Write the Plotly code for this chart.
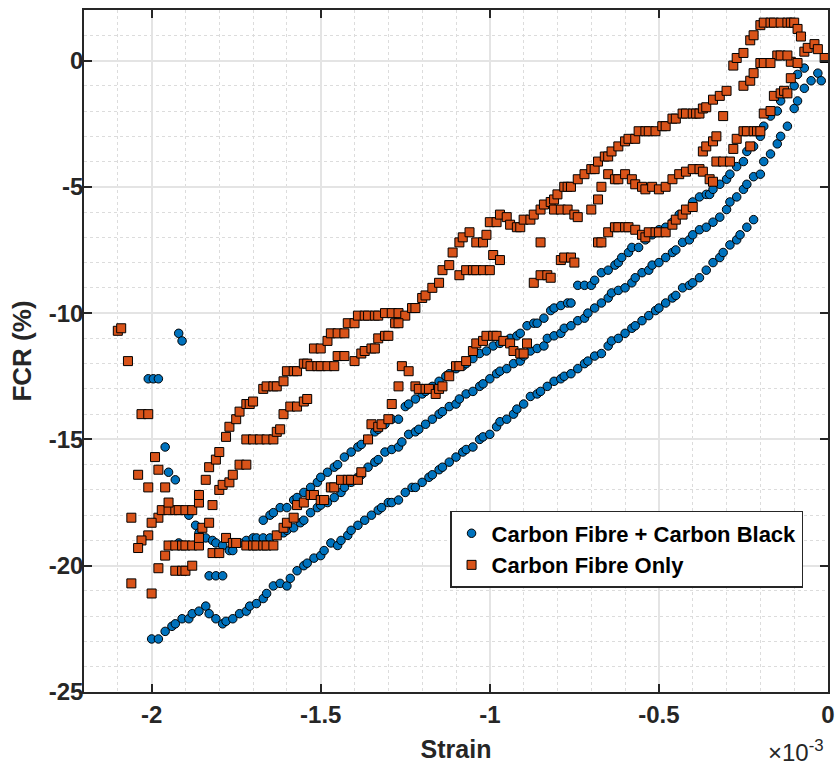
import plotly.graph_objects as go

# Strain values are in units of 1e-3 (axis multiplier shown as x10^-3); FCR in %
# ---------------- Carbon Fibre + Carbon Black ----------------
cfcb_lower = [(-2.00,-22.9),(-1.98,-22.9),(-1.96,-22.6),(-1.94,-22.4),(-1.93,-22.3),(-1.91,-22.1),(-1.89,-22.1),
    (-1.88,-21.9),(-1.86,-21.8),(-1.84,-21.6),(-1.83,-21.9),(-1.81,-22.1),(-1.79,-22.3),(-1.78,-22.2),(-1.76,-22.1),
    (-1.74,-21.9),(-1.72,-21.8),(-1.71,-21.6),(-1.69,-21.5),(-1.67,-21.3),(-1.66,-21.1),(-1.64,-20.8),(-1.62,-20.7),
    (-1.60,-20.8),(-1.59,-20.5),(-1.57,-20.2),(-1.55,-20.0),(-1.54,-19.9),(-1.52,-19.7),(-1.50,-19.6),(-1.49,-19.4),
    (-1.47,-19.1),(-1.45,-19.2),(-1.44,-19.0),(-1.42,-18.8),(-1.41,-18.6),(-1.39,-18.4),(-1.37,-18.2),(-1.35,-18.0),
    (-1.33,-17.8),(-1.32,-17.7),(-1.30,-17.5),(-1.29,-17.5),(-1.27,-17.4),(-1.25,-17.1),(-1.23,-16.9),(-1.22,-16.9),
    (-1.20,-16.7),(-1.18,-16.5),(-1.17,-16.4),(-1.15,-16.2),(-1.14,-16.1),(-1.12,-15.9),(-1.10,-15.7),(-1.08,-15.5),
    (-1.07,-15.4),(-1.05,-15.3),(-1.03,-15.0),(-1.02,-14.9),(-1.00,-14.8),(-0.98,-14.5),(-0.97,-14.3),(-0.95,-14.2),
    (-0.93,-14.0),(-0.92,-13.8),(-0.90,-13.6),(-0.88,-13.3),(-0.86,-13.2),(-0.85,-13.1),(-0.83,-12.9),(-0.81,-12.7),
    (-0.79,-12.6),(-0.78,-12.5),(-0.76,-12.4),(-0.74,-12.2),(-0.72,-12.0),(-0.71,-11.9),(-0.69,-11.7),(-0.67,-11.6),
    (-0.65,-11.3),(-0.64,-11.1),(-0.62,-11.0),(-0.60,-10.8),(-0.58,-10.6),(-0.57,-10.5),(-0.55,-10.3),(-0.53,-10.1),
    (-0.51,-9.9),(-0.50,-9.8),(-0.48,-9.6),(-0.46,-9.4),(-0.45,-9.3),(-0.43,-9.0),(-0.41,-8.9),(-0.40,-8.8),
    (-0.38,-8.6),(-0.36,-8.3),(-0.34,-8.0),(-0.32,-7.8),(-0.31,-7.6),(-0.29,-7.3),(-0.27,-7.1),(-0.26,-6.9),
    (-0.24,-6.6),(-0.22,-6.3)]

cfcb_middle = [(-1.72,-19.0),(-1.70,-18.9),(-1.69,-18.9),(-1.67,-18.9),(-1.65,-18.9),(-1.63,-18.8),(-1.61,-18.7),
    (-1.60,-18.6),(-1.58,-18.5),(-1.56,-18.3),(-1.55,-18.2),(-1.53,-17.9),(-1.51,-17.7),(-1.50,-17.6),(-1.48,-17.5),
    (-1.46,-17.3),(-1.44,-17.1),(-1.43,-16.9),(-1.41,-16.7),(-1.39,-16.5),(-1.38,-16.4),(-1.36,-16.1),(-1.34,-15.9),
    (-1.33,-15.8),(-1.31,-15.5),(-1.29,-15.4),(-1.27,-15.3),(-1.26,-15.1),(-1.24,-14.8),(-1.22,-14.7),(-1.21,-14.6),
    (-1.19,-14.4),(-1.17,-14.2),(-1.15,-14.0),(-1.14,-13.9),(-1.12,-13.7),(-1.10,-13.6),(-1.09,-13.4),(-1.07,-13.2),
    (-1.05,-13.1),(-1.03,-12.9),(-1.02,-12.8),(-1.00,-12.6),(-0.98,-12.4),(-0.97,-12.3),(-0.95,-12.2),(-0.93,-12.0),
    (-0.91,-11.9),(-0.90,-11.7),(-0.88,-11.5),(-0.86,-11.4),(-0.84,-11.3),(-0.83,-11.0),(-0.81,-10.9),(-0.79,-10.8),
    (-0.78,-10.6),(-0.76,-10.5),(-0.74,-10.3),(-0.72,-10.2),(-0.71,-10.0),(-0.69,-9.8),(-0.67,-9.6),(-0.65,-9.4),
    (-0.64,-9.2),(-0.62,-9.1),(-0.60,-9.0),(-0.58,-8.8),(-0.57,-8.6),(-0.55,-8.4),(-0.53,-8.3),(-0.52,-8.1),
    (-0.50,-8.0),(-0.48,-7.8),(-0.46,-7.6),(-0.45,-7.5),(-0.43,-7.2),(-0.41,-7.1),(-0.40,-6.9),(-0.38,-6.7),
    (-0.36,-6.6),(-0.34,-6.4),(-0.32,-6.2),(-0.30,-5.9),(-0.29,-5.6),(-0.27,-5.4),(-0.25,-5.1),(-0.24,-4.9),
    (-0.22,-4.6),(-0.20,-4.5),(-0.19,-4.0),(-0.17,-3.7),(-0.15,-3.3),(-0.14,-3.0),(-0.12,-2.6),(-0.10,-1.9),
    (-0.09,-1.6),(-0.07,-1.1),(-0.05,-0.8),(-0.03,-0.5),(-0.02,-0.8)]

cfcb_upper = [(-1.67,-18.2),(-1.65,-18.0),(-1.64,-17.9),(-1.62,-17.7),(-1.60,-17.7),(-1.58,-17.4),(-1.57,-17.3),
    (-1.55,-17.1),(-1.53,-16.9),(-1.51,-16.7),(-1.50,-16.5),(-1.48,-16.3),(-1.46,-16.1),(-1.45,-16.0),(-1.43,-15.7),
    (-1.41,-15.5),(-1.39,-15.3),(-1.38,-15.2),(-1.36,-15.0),(-1.34,-14.7),(-1.33,-14.6),(-1.31,-14.4),(-1.29,-14.2),
    (-1.27,-14.2),(-1.25,-13.7),(-1.24,-13.6),(-1.22,-13.4),(-1.20,-13.2),(-1.19,-13.1),(-1.17,-12.9),(-1.15,-12.7),
    (-1.13,-12.5),(-1.12,-12.4),(-1.10,-12.2),(-1.08,-12.1),(-1.07,-12.0),(-1.05,-11.8),(-1.03,-11.6),(-1.01,-11.5),
    (-0.99,-11.3),(-0.97,-11.2),(-0.96,-11.1),(-0.94,-11.0),(-0.92,-10.9),(-0.91,-10.8),(-0.89,-10.5),(-0.87,-10.4),
    (-0.86,-10.4),(-0.84,-10.2),(-0.82,-9.9),(-0.81,-9.8),(-0.79,-9.7),(-0.77,-9.6),(-0.76,-9.6),(-0.74,-8.9),
    (-0.72,-8.9),(-0.70,-8.9),(-0.69,-8.7),(-0.67,-8.4),(-0.65,-8.3),(-0.63,-8.1),(-0.62,-8.0),(-0.61,-7.8),
    (-0.59,-7.6),(-0.58,-7.4),(-0.56,-7.4),(-0.54,-7.1),(-0.52,-6.9),(-0.50,-6.7),(-0.48,-6.6),(-0.46,-6.4),
    (-0.44,-6.1),(-0.42,-5.9),(-0.40,-5.6),(-0.38,-5.4),(-0.36,-5.3),(-0.35,-5.3),(-0.34,-5.1),(-0.32,-4.9),
    (-0.30,-4.7),(-0.29,-4.5),(-0.27,-4.2),(-0.25,-4.0),(-0.24,-3.6),(-0.22,-3.4),(-0.20,-3.0),(-0.19,-2.6),
    (-0.17,-2.2),(-0.15,-2.0),(-0.14,-1.6),(-0.12,-1.3),(-0.10,-1.0),(-0.09,-0.55),(-0.07,-0.3)]

cfcb_scatter = [(-1.92,-10.8),(-1.91,-11.1),(-2.01,-12.6),(-1.995,-12.6),(-1.98,-12.6),(-1.96,-15.3),(-1.95,-16.3),
    (-1.93,-16.6),(-1.92,-19.1),(-1.89,-18.0),(-1.87,-18.4),(-1.86,-18.7),(-1.84,-18.9),(-1.82,-19.0),(-1.81,-19.1),
    (-1.79,-19.2),(-1.77,-19.4),(-1.76,-19.4),(-1.74,-19.1),(-1.83,-20.4),(-1.81,-20.4),(-1.79,-20.4)]

# ---------------- Carbon Fibre Only ----------------
cf_left = [(-2.10,-10.7),(-2.09,-10.6),(-2.07,-11.9),(-2.03,-14.0),(-2.01,-14.0),(-1.99,-15.7),(-2.04,-16.4),
    (-1.98,-16.2),(-2.01,-16.9),(-1.96,-16.9),(-2.06,-18.1),(-1.98,-18.1),(-2.00,-18.3),(-2.01,-18.8),(-2.03,-19.0),
    (-2.04,-19.3),(-1.96,-19.6),(-1.98,-20.1),(-2.06,-20.7),(-2.00,-21.1),
    (-1.95,-19.2),(-1.93,-19.2),(-1.91,-19.2),(-1.90,-19.2),(-1.88,-19.2),(-1.86,-19.2),
    (-1.93,-20.2),(-1.91,-20.2),(-1.90,-20.2),(-1.88,-20.0)]

cf_upper = [(-1.97,-17.8),(-1.95,-17.8),(-1.93,-17.8),(-1.92,-17.8),(-1.90,-17.8),(-1.88,-17.8),(-1.95,-17.5),
    (-1.86,-17.5),(-1.86,-17.2),(-1.84,-16.6),(-1.83,-16.1),(-1.81,-15.8),(-1.80,-15.5),(-1.78,-14.9),(-1.77,-14.5),
    (-1.75,-14.2),(-1.74,-13.9),(-1.72,-13.6),(-1.71,-13.6),(-1.70,-13.5),(-1.67,-13.0),(-1.66,-12.9),(-1.64,-12.9),
    (-1.63,-12.9),(-1.61,-12.7),(-1.60,-12.3),(-1.58,-12.3),(-1.57,-12.3),(-1.55,-12.0),(-1.54,-12.0),(-1.52,-11.4),
    (-1.50,-11.4),(-1.48,-11.1),(-1.47,-10.8),(-1.45,-10.8),(-1.43,-10.8),(-1.42,-10.4),(-1.40,-10.4),(-1.39,-10.1),
    (-1.37,-10.1),(-1.36,-10.1),(-1.34,-10.1),(-1.33,-10.1),(-1.31,-10.0),(-1.29,-10.0),(-1.27,-10.0),(-1.25,-10.1),
    (-1.23,-9.8),(-1.22,-9.8),(-1.20,-9.4),(-1.19,-9.3),(-1.17,-9.0),(-1.15,-8.8),(-1.14,-8.3),(-1.12,-8.1),
    (-1.11,-7.6),(-1.09,-7.2),(-1.08,-7.0),(-1.06,-6.8),(-1.04,-7.2),(-1.02,-7.2),(-1.01,-6.9),(-1.00,-6.4),
    (-0.98,-6.4),(-0.97,-6.1),(-0.95,-6.2),(-0.94,-6.5),(-0.92,-6.6),(-0.91,-6.6),(-0.90,-6.3),(-0.88,-6.3),
    (-0.87,-6.1),(-0.85,-5.9),(-0.84,-5.7),(-0.82,-5.6),(-0.81,-5.5),(-0.80,-5.3),(-0.78,-5.0),(-0.77,-5.0),
    (-0.76,-5.0),(-0.74,-4.7),(-0.72,-4.5),(-0.70,-4.3),(-0.69,-4.3),(-0.68,-4.0),(-0.66,-3.8),(-0.65,-3.8),
    (-0.64,-3.6),(-0.62,-3.4),(-0.60,-3.2),(-0.59,-3.1),(-0.57,-3.1),(-0.56,-2.8),(-0.54,-2.8),(-0.53,-2.8),
    (-0.51,-2.8),(-0.49,-2.6),(-0.48,-2.6),(-0.46,-2.3),(-0.45,-2.3),(-0.43,-2.1),(-0.42,-2.1),(-0.40,-2.1),
    (-0.39,-2.1),(-0.38,-2.1),(-0.37,-1.9),(-0.36,-1.85),(-0.34,-1.55),(-0.32,-1.4),(-0.30,-1.2),
    (-0.28,-0.2),(-0.27,0.1),(-0.25,0.3),(-0.23,0.8),(-0.22,1.0),(-0.20,1.4),(-0.19,1.5),(-0.17,1.5),(-0.16,1.5),
    (-0.14,1.5),(-0.12,1.5),(-0.11,1.5),(-0.10,1.5),(-0.09,1.25),(-0.08,0.95),(-0.07,0.35),(-0.06,0.5),
    (-0.04,0.65),(-0.03,0.45),(-0.01,0.1)]

cf_branch = [(-1.86,-18.9),(-1.85,-18.5),(-1.83,-18.3),(-1.82,-17.6),(-1.80,-17.0),(-1.79,-16.8),(-1.77,-16.7),
    (-1.76,-16.4),(-1.74,-16.0),(-1.72,-16.0),
    (-1.72,-15.0),(-1.70,-15.0),(-1.68,-15.0),(-1.66,-15.0),(-1.64,-15.0),(-1.63,-14.7),(-1.62,-14.6),(-1.61,-14.0),
    (-1.59,-13.7),(-1.57,-13.7),(-1.55,-13.5),(-1.54,-13.4),
    (-1.53,-12.1),(-1.51,-12.1),(-1.50,-12.1),(-1.48,-12.1),(-1.46,-12.1),(-1.45,-11.7),(-1.43,-11.7),(-1.40,-11.9),
    (-1.38,-11.6),(-1.37,-11.5),(-1.35,-11.4),(-1.34,-11.4),(-1.33,-11.0),(-1.31,-10.9),(-1.30,-10.9),(-1.28,-10.4),
    (-1.27,-10.4),
    (-1.09,-8.5),(-1.07,-8.3),(-1.05,-8.3),(-1.04,-8.3),(-1.02,-8.3),(-1.00,-8.3),(-0.99,-7.7),(-0.97,-7.9)]

cf_lower = [(-1.82,-19.5),(-1.80,-19.5),(-1.78,-18.9),(-1.76,-19.1),(-1.75,-19.1),(-1.72,-19.2),(-1.70,-19.2),
    (-1.69,-19.2),(-1.67,-19.2),(-1.66,-19.2),(-1.64,-19.2),(-1.63,-18.8),(-1.61,-18.5),(-1.60,-18.3),(-1.58,-18.1),
    (-1.57,-17.6),(-1.55,-17.5),(-1.53,-17.2),(-1.52,-17.2),(-1.50,-17.4),(-1.49,-17.4),(-1.47,-16.9),(-1.46,-16.9),
    (-1.44,-16.6),(-1.42,-16.6),(-1.41,-16.6),(-1.39,-16.6),(-1.38,-16.3),(-1.36,-15.0),(-1.35,-14.4),(-1.33,-14.5),
    (-1.32,-14.4),(-1.30,-14.2),(-1.29,-13.6),(-1.27,-12.9),(-1.26,-12.1),(-1.24,-12.3),(-1.22,-12.9),(-1.21,-13.0),
    (-1.19,-13.0),(-1.18,-13.0),(-1.16,-13.2),(-1.15,-13.0),(-1.14,-12.9),(-1.12,-12.5),(-1.10,-12.1),(-1.09,-12.1),
    (-1.07,-11.9),(-1.05,-11.5),(-1.04,-11.2),(-1.02,-11.1),(-1.01,-10.9),(-0.99,-10.9),(-0.98,-10.9),(-0.96,-11.1),
    (-0.94,-11.2),(-0.93,-11.5),(-0.91,-11.6),(-0.90,-11.6),(-0.89,-11.2)]

cf_loop = [(-0.87,-8.8),(-0.85,-8.5),(-0.83,-8.5),(-0.82,-8.6),(-0.79,-7.9),(-0.78,-7.8),(-0.76,-7.8),(-0.75,-8.0),
    (-0.85,-7.2),(-0.68,-7.2),(-0.67,-7.2),(-0.65,-6.8),(-0.63,-6.6),(-0.62,-6.6),(-0.60,-6.6),(-0.59,-6.6),
    (-0.57,-6.7),(-0.55,-6.9),(-0.54,-7.0),(-0.53,-6.8),(-0.51,-6.8),(-0.50,-6.8),(-0.48,-6.8),(-0.46,-6.5),
    (-0.45,-6.3),(-0.43,-6.1),(-0.42,-5.9),(-0.40,-5.8),
    (-0.37,-3.6),(-0.36,-3.4),(-0.34,-3.2),(-0.33,-3.0),(-0.31,-2.2),(-0.28,-3.5),(-0.27,-3.1),(-0.25,-2.8),
    (-0.24,-2.8),(-0.22,-2.8),(-0.21,-2.8),(-0.20,-2.8),(-0.23,-3.4),(-0.19,-2.1),(-0.17,-2.0),(-0.16,-1.4),
    (-0.14,-1.3),(-0.13,-1.2),(-0.12,-1.3),(-0.11,-0.7),(-0.11,-0.05),(-0.09,-0.1),(-0.15,0.2),(-0.14,0.2),
    (-0.12,0.2),(-0.20,-0.1),(-0.19,-0.1),(-0.17,-0.1),(-0.25,-1.0),(-0.23,-0.8),(-0.22,-0.5)]

cf_wave = [(-0.81,-5.9),(-0.79,-5.9),(-0.77,-5.9),(-0.75,-6.1),(-0.74,-6.2),(-0.70,-5.9),(-0.68,-5.5),(-0.67,-5.0),
    (-0.65,-4.5),(-0.63,-4.7),(-0.62,-4.7),(-0.60,-4.5),(-0.58,-4.7),(-0.57,-4.9),(-0.55,-5.0),(-0.54,-5.1),
    (-0.52,-5.0),(-0.50,-5.1),(-0.48,-5.0),(-0.46,-4.7),(-0.44,-4.5),(-0.42,-4.4),(-0.40,-4.3),(-0.38,-4.3),
    (-0.37,-4.4),(-0.35,-4.7),(-0.34,-4.8),(-0.33,-4.0),(-0.31,-4.0),(-0.29,-4.0)]

x_tick_vals = [-2, -1.5, -1, -0.5, 0]
x_tick_text = ["-2", "-1.5", "-1", "-0.5", "0"]
y_tick_vals = [0, -5, -10, -15, -20, -25]
y_tick_text = ["0", "-5", "-10", "-15", "-20", "-25"]

series_names = ["Carbon Fibre + Carbon Black", "Carbon Fibre Only"]


def unzip(*segments):
    xs, ys = [], []
    for seg in segments:
        for x, y in seg:
            xs.append(x)
            ys.append(y)
    return xs, ys


cfcb_x, cfcb_y = unzip(cfcb_lower, cfcb_middle, cfcb_upper, cfcb_scatter)
cf_x, cf_y = unzip(cf_left, cf_upper, cf_branch, cf_lower, cf_loop, cf_wave)

INK = "#262626"
FONT = "Liberation Sans, Arial, Helvetica, sans-serif"

fig = go.Figure()
fig.add_trace(go.Scatter(
    x=cfcb_x, y=cfcb_y, mode="markers", name=series_names[0],
    marker=dict(symbol="circle", size=8.5, color="#0072BD", line=dict(color="black", width=1)),
))
fig.add_trace(go.Scatter(
    x=cf_x, y=cf_y, mode="markers", name=series_names[1],
    marker=dict(symbol="square", size=9, color="#D95319", line=dict(color="black", width=1)),
))

axis_common = dict(
    showline=True, linecolor=INK, linewidth=1.5, mirror="allticks",
    ticks="inside", ticklen=8, tickwidth=1.5, tickcolor=INK,
    showgrid=True, gridcolor="#e4e4e4", gridwidth=1.5,
    zeroline=False,
    tickfont=dict(family=FONT, size=24, color=INK, weight="bold"),
)

fig.update_xaxes(
    range=[-2.2, 0], tickmode="array", tickvals=x_tick_vals, ticktext=x_tick_text,
    minor=dict(dtick=0.1, tick0=0, showgrid=True, gridcolor="#dcdcdc", griddash="dot", gridwidth=1, ticks=""),
    title=dict(text="Strain", font=dict(family=FONT, size=25, color=INK, weight="bold"), standoff=14),
    ticklabelstandoff=0,
    **axis_common,
)
fig.update_yaxes(
    range=[-25, 2], tickmode="array", tickvals=y_tick_vals, ticktext=y_tick_text,
    minor=dict(dtick=1, tick0=0, showgrid=True, gridcolor="#dcdcdc", griddash="dot", gridwidth=1, ticks=""),
    title=dict(text="FCR (%)", font=dict(family=FONT, size=26, color=INK, weight="bold"), standoff=10),
    ticklabelstandoff=-6,
    **axis_common,
)

fig.add_annotation(
    text="×10<sup>-3</sup>", xref="paper", yref="paper", x=0.917, y=-0.1114,
    xanchor="left", yanchor="bottom", showarrow=False,
    font=dict(family=FONT, size=24, color=INK),
)

fig.update_layout(
    width=840, height=769,
    margin=dict(l=84, r=12, t=10, b=77, autoexpand=False),
    paper_bgcolor="white", plot_bgcolor="white",
    font=dict(family=FONT, color=INK),
    legend=dict(
        x=0.492, y=0.209, xanchor="left", yanchor="middle",
        bgcolor="white", bordercolor=INK, borderwidth=1.5,
        font=dict(family=FONT, size=22, color="black", weight="bold"),
        tracegroupgap=0,
    ),
)

fig.write_html("out.html")
